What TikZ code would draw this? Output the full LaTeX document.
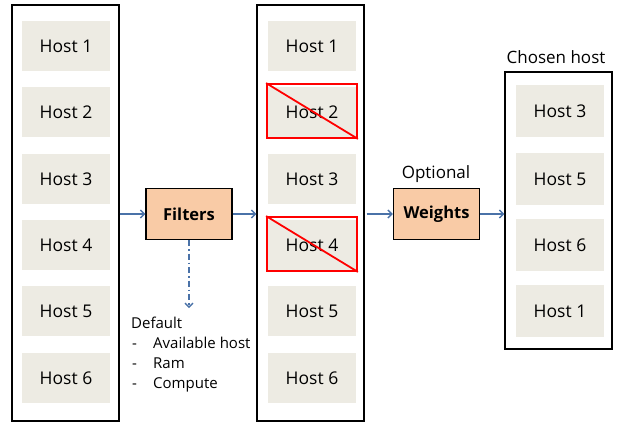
\documentclass[tikz,border=0pt]{standalone}
\usepackage{fontspec}
\setmainfont{Open Sans}
\usetikzlibrary{arrows.meta}
\definecolor{hostfill}{HTML}{EDEBE3}
\definecolor{peach}{HTML}{F9CBA6}
\definecolor{arrblue}{HTML}{4A72A8}
\tikzset{
  host/.style={fill=hostfill, minimum width=88pt, minimum height=50pt, inner sep=0pt, font=\fontsize{17.5}{19}\selectfont},
  frame/.style={draw=black, line width=1.1pt, minimum width=107pt, inner sep=0pt},
  proc/.style={draw=black, line width=1.2pt, fill=peach, minimum width=86pt, minimum height=51pt, inner sep=0pt, font=\fontsize{16.5}{18}\selectfont\bfseries},
  arr/.style={draw=arrblue, line width=1.6pt, -{Straight Barb[length=4pt,width=8pt,line width=1.4pt]}},
  cross/.style={draw=red, line width=1.8pt},
  lbl/.style={font=\fontsize{15}{17}\selectfont, inner sep=0pt, anchor=base west},
  biglbl/.style={font=\fontsize{17}{19}\selectfont, inner sep=0pt}
}
\begin{document}
\begin{tikzpicture}[x=1pt,y=-1pt]
\useasboundingbox (0,0) rectangle (619,423);
% frames
\node[frame, minimum height=416pt] (lframe) at (65.5,213) {};
\node[frame, minimum height=416pt] (mframe) at (310.5,213) {};
\node[frame, minimum height=277pt] (rframe) at (558.5,210.5) {};
% left column
\node[host] (l1) at (66,46) {Host 1};
\node[host] (l2) at (66,112) {Host 2};
\node[host] (l3) at (66,179) {Host 3};
\node[host] (l4) at (66,245) {Host 4};
\node[host] (l5) at (66,311) {Host 5};
\node[host] (l6) at (66,378) {Host 6};
% middle column
\node[host] (m1) at (312,46) {Host 1};
\node[host] (m2) at (312,112) {Host 2};
\node[host] (m3) at (312,179) {Host 3};
\node[host] (m4) at (312,245) {Host 4};
\node[host] (m5) at (312,311) {Host 5};
\node[host] (m6) at (312,378) {Host 6};
% right column
\node[host, minimum height=52pt] (r1) at (560,111) {Host 3};
\node[host, minimum height=52pt] (r2) at (560,179) {Host 5};
\node[host, minimum height=52pt] (r3) at (560,245) {Host 6};
\node[host, minimum height=52pt] (r4) at (560,311) {Host 1};
\node[biglbl] (chosen) at (556,57) {Chosen host};
% crossed-out hosts
\node[cross, minimum width=90pt, minimum height=54pt, inner sep=0pt] (x2) at (312,111) {};
\draw[cross] (x2.north west) -- (x2.south east);
\node[cross, minimum width=90pt, minimum height=54pt, inner sep=0pt] (x4) at (312,244) {};
\draw[cross] (x4.north west) -- (x4.south east);
% process boxes
\node[proc] (filters) at (189,214) {Filters};
\node[proc] (weights) at (436.5,214) {Weights};
\node[biglbl] (optional) at (436,174) {Optional};
% arrows
\draw[arr] (filters.west -| lframe.east) -- (filters.west);
\draw[arr] (filters.east) -- (filters.east -| mframe.west);
\draw[arr] ([xshift=2pt]weights.west -| mframe.east) -- (weights.west);
\draw[arr] (weights.east) -- (weights.east -| rframe.west);
% default list
\coordinate (dend) at (189,308);
\draw[arr, line width=1.3pt, dash pattern=on 6pt off 3pt on 1.5pt off 3pt] (filters.south) -- (dend);
\node[lbl] (def) at (131,328) {Default};
\node[lbl] (d1) at (132,348) {-};
\node[lbl] (t1) at (153,348) {Available host};
\node[lbl] (d2) at (132,368) {-};
\node[lbl] (t2) at (153,368) {Ram};
\node[lbl] (d3) at (132,388) {-};
\node[lbl] (t3) at (153,388) {Compute};
\end{tikzpicture}
\end{document}
